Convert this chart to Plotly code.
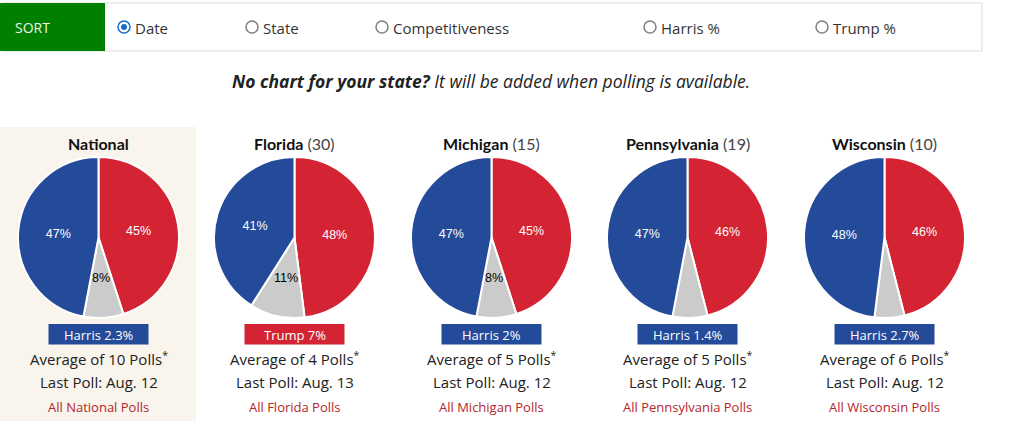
import math
import plotly.graph_objects as go

# ---------------- data ----------------
states = ["National", "Florida", "Michigan", "Pennsylvania", "Wisconsin"]
electoral_votes = [None, 30, 15, 19, 10]
trump_pct = [45, 48, 45, 46, 46]
other_pct = [8, 11, 8, 7, 6]
harris_pct = [47, 41, 47, 47, 48]
leader = ["Harris", "Trump", "Harris", "Harris", "Harris"]
margin = ["2.3", "7", "2", "1.4", "2.7"]
poll_counts = [10, 4, 5, 5, 6]
last_poll = ["Aug. 12", "Aug. 13", "Aug. 12", "Aug. 12", "Aug. 12"]
sort_options = ["Date", "State", "Competitiveness", "Harris %", "Trump %"]
selected_sort = "Date"

# ---------------- style ----------------
W, H = 1020, 440
BLUE = "#244a9a"
RED = "#d42433"
GRAY = "#cbcbcb"
LINK_RED = "#b3262c"
TEXT = "#222222"
FONT = "Open Sans"
PIE_FONT = "Liberation Sans"

col_x = [98.5, 294.5, 491.5, 687.5, 884.5]
pie_cy, pie_r = 237.5, 80.5
radio_x = [124, 252, 382, 650, 822]
MIN_LABEL = 8  # smaller slices are left unlabelled

fig = go.Figure()
# invisible trace so that the x/y coordinate system exists
fig.add_trace(go.Scatter(x=[0, W], y=[0, H], mode="markers", marker=dict(opacity=0),
                         hoverinfo="skip", showlegend=False))
shapes, annotations = [], []

# top sort bar
shapes.append(dict(type="rect", x0=3, x1=982, y0=3, y1=51, line=dict(color="#dcdcdc", width=1), fillcolor="white", layer="below"))
shapes.append(dict(type="rect", x0=0, x1=105, y0=3, y1=51, line=dict(width=0), fillcolor="#008000", layer="below"))
annotations.append(dict(x=13, y=27, text="SORT", xanchor="left", yanchor="middle", showarrow=False,
                        font=dict(family=FONT, size=14, color="#eef6ea")))
for opt, rx in zip(sort_options, radio_x):
    sel = opt == selected_sort
    shapes.append(dict(type="circle", x0=rx - 6, x1=rx + 6, y0=21, y1=33,
                       line=dict(color="#1a6ac9" if sel else "#808080", width=1.5), fillcolor="white"))
    if sel:
        shapes.append(dict(type="circle", x0=rx - 3, x1=rx + 3, y0=24, y1=30, line=dict(width=0), fillcolor="#1a6ac9"))
    annotations.append(dict(x=rx + 9, y=27.5, text=opt, xanchor="left", yanchor="middle", showarrow=False,
                            font=dict(family=FONT, size=15, color="#333333")))

annotations.append(dict(x=491, y=81, text="<b><i>No chart for your state?</i></b><i> It will be added when polling is available.</i>",
                        xanchor="center", yanchor="middle", showarrow=False,
                        font=dict(family=FONT, size=17.5, color=TEXT)))

# national highlight panel
shapes.append(dict(type="rect", x0=0, x1=196, y0=127, y1=421, line=dict(width=0), fillcolor="#f9f4ec", layer="below"))

for i, st in enumerate(states):
    cx = col_x[i]
    title = f"<b>{st}</b>" + (f" <span style='color:#444'>({electoral_votes[i]})</span>" if electoral_votes[i] else "")
    annotations.append(dict(x=cx, y=143, text=title, xanchor="center", yanchor="middle", showarrow=False,
                            font=dict(family="Lato", size=16, color="#111111")))
    vals = [trump_pct[i], other_pct[i], harris_pct[i]]
    fig.add_trace(go.Pie(
        values=vals, labels=["Trump", "Other", "Harris"],
        text=[f"{v}%" for v in vals], textinfo="text",
        textposition=["inside", "none", "inside"], insidetextorientation="horizontal",
        sort=False, direction="clockwise", rotation=0,
        marker=dict(colors=[RED, GRAY, BLUE], line=dict(color="white", width=2)),
        textfont=dict(family=PIE_FONT, size=12.5, color="white"),
        hoverinfo="skip", showlegend=False,
        domain=dict(x=[(cx - pie_r) / W, (cx + pie_r) / W],
                    y=[(H - pie_cy - pie_r) / H, (H - pie_cy + pie_r) / H]),
    ))
    # label of the "other" slice, placed at its mid-angle, half-way out
    if other_pct[i] >= MIN_LABEL:
        total = sum(vals)
        mid = 2 * math.pi * (vals[0] + vals[1] / 2) / total
        annotations.append(dict(x=cx + 0.51 * pie_r * math.sin(mid), y=pie_cy - 0.51 * pie_r * math.cos(mid),
                                text=f"{other_pct[i]}%", xanchor="center", yanchor="middle", showarrow=False,
                                font=dict(family=PIE_FONT, size=12.5, color="black")))
    box_col = BLUE if leader[i] == "Harris" else RED
    shapes.append(dict(type="rect", x0=cx - 50, x1=cx + 50, y0=324, y1=344.5, line=dict(width=0), fillcolor=box_col))
    annotations.append(dict(x=cx, y=334.5, text=f"{leader[i]} {margin[i]}%", xanchor="center", yanchor="middle",
                            showarrow=False, font=dict(family=FONT, size=13, color="white")))
    annotations.append(dict(x=cx, y=358, text=f"Average of {poll_counts[i]} Polls<sup>*</sup>", xanchor="center",
                            yanchor="middle", showarrow=False, font=dict(family=FONT, size=15, color=TEXT)))
    annotations.append(dict(x=cx, y=382, text=f"Last Poll: {last_poll[i]}", xanchor="center",
                            yanchor="middle", showarrow=False, font=dict(family=FONT, size=15, color=TEXT)))
    annotations.append(dict(x=cx, y=407, text=f"All {st} Polls", xanchor="center",
                            yanchor="middle", showarrow=False, font=dict(family=FONT, size=13, color=LINK_RED)))

fig.update_layout(
    width=W, height=H, margin=dict(l=0, r=0, t=0, b=0),
    paper_bgcolor="white", plot_bgcolor="rgba(0,0,0,0)",
    xaxis=dict(range=[0, W], visible=False, fixedrange=True),
    yaxis=dict(range=[H, 0], visible=False, fixedrange=True),
    shapes=shapes, annotations=annotations,
)
fig.write_html("out.html", config={"displayModeBar": False},
               post_script="document.body.style.margin='0';document.body.style.overflow='hidden';")
